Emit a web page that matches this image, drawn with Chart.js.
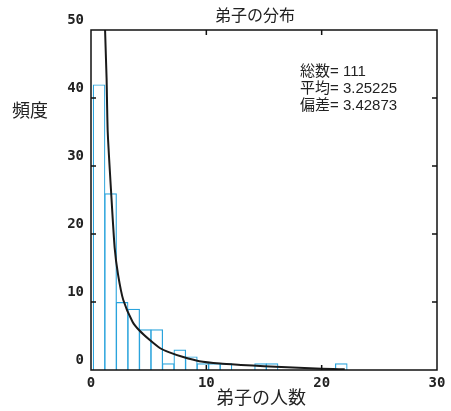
<!DOCTYPE html>
<html>
<head>
<meta charset="utf-8">
<script src="https://cdn.jsdelivr.net/npm/chart.js@4"></script>
<style>
  html, body { margin: 0; padding: 0; background: #fff; }
  #wrap { width: 451px; height: 411px; position: relative; }
</style>
</head>
<body>
<div id="wrap"><canvas id="chart"></canvas></div>
<script>
// 弟子の人数 (1..22) and how many masters had that many
const disciples = [1, 2, 3, 4, 5, 6, 7, 8, 9, 10, 11, 12, 13, 14, 15, 16, 17, 18, 19, 20, 21, 22];
const freq = [42, 26, 10, 9, 6, 6, 1, 3, 2, 1, 1, 1, 0, 0, 1, 1, 0, 0, 0, 0, 0, 1];

// fitted curve
const curveX = [1.15, 1.22, 1.35, 1.45, 1.75, 2.05, 2.35, 2.8, 3.6, 4.2, 5.1, 6.0, 6.8, 8.0, 9.4, 11.2, 13.0, 15.0, 17.0, 19.0, 21.0, 22.0];
const curveY = [58, 50, 43, 35, 26, 18, 14, 10.3, 7.1, 5.8, 4.4, 3.2, 2.6, 1.9, 1.3, 0.95, 0.75, 0.55, 0.4, 0.25, 0.15, 0.1];

const xTicks = [0, 10, 20, 30];
const yTicks = [0, 10, 20, 30, 40, 50];

const statLabels = ['総数= 111', '平均= 3.25225', '偏差= 3.42873'];

const BIN_SHIFT = -0.3; // bars sit a little left of the integer value

const barData = disciples.map((v, i) => ({ x: v + BIN_SHIFT, y: freq[i] > 0 ? freq[i] : null }));
const lineData = curveX.map((x, i) => ({ x: x, y: curveY[i] }));

const cjk = '"Noto Sans CJK JP", "Noto Sans", sans-serif';
const mono = '"DejaVu Sans Mono", monospace';

const frameTicks = {
  id: 'frameTicks',
  afterDraw(chart) {
    const ctx = chart.ctx;
    const a = chart.chartArea;
    const xs = chart.scales.x, ys = chart.scales.y;
    ctx.save();
    ctx.strokeStyle = '#111';
    ctx.lineWidth = 1.5;
    ctx.strokeRect(a.left, a.top, a.right - a.left, a.bottom - a.top);
    const len = 5;
    ctx.beginPath();
    xTicks.slice(1, -1).forEach(t => {
      const px = xs.getPixelForValue(t);
      ctx.moveTo(px, a.bottom); ctx.lineTo(px, a.bottom - len);
      ctx.moveTo(px, a.top); ctx.lineTo(px, a.top + len);
    });
    yTicks.slice(1, -1).forEach(t => {
      const py = ys.getPixelForValue(t);
      ctx.moveTo(a.left, py); ctx.lineTo(a.left + len, py);
      ctx.moveTo(a.right, py); ctx.lineTo(a.right - len, py);
    });
    ctx.stroke();

    ctx.fillStyle = '#222';
    ctx.textBaseline = 'middle';
    ctx.textAlign = 'center';
    ctx.font = '16px ' + cjk;
    ctx.fillText('弟子の分布', 255, 15);
    ctx.font = '18px ' + cjk;
    ctx.fillText('弟子の人数', 261, 397);
    ctx.textAlign = 'left';
    ctx.fillText('頻度', 12, 110);

    ctx.font = '15px "Liberation Sans", ' + cjk;
    statLabels.forEach((s, i) => ctx.fillText(s, 300, 72 + i * 17));
    ctx.restore();
  }
};

new Chart(document.getElementById('chart'), {
  type: 'bar',
  data: {
    datasets: [
      {
        type: 'line',
        data: lineData,
        borderColor: '#1a1a1a',
        borderWidth: 2,
        pointRadius: 0,
        tension: 0.2,
        fill: false,
        order: 0
      },
      {
        type: 'bar',
        data: barData,
        backgroundColor: 'rgba(0,0,0,0)',
        borderColor: '#2aa3dc',
        borderWidth: 1.2,
        barPercentage: 1.09,
        categoryPercentage: 1,
        inflateAmount: 0,
        order: 1
      }
    ]
  },
  options: {
    responsive: true,
    maintainAspectRatio: false,
    animation: false,
    layout: { padding: { left: 0, top: 30, right: 14, bottom: 0 } },
    plugins: { legend: { display: false }, tooltip: { enabled: false } },
    scales: {
      x: {
        type: 'linear',
        offset: false,
        min: 0,
        max: 30,
        afterFit: s => { s.height = 41; },
        afterBuildTicks: s => { s.ticks = xTicks.map(v => ({ value: v })); },
        grid: { display: false, drawTicks: false, offset: false },
        border: { display: false },
        ticks: { padding: 5, color: '#222', font: { family: mono, size: 14, weight: 'bold' } }
      },
      y: {
        min: 0,
        max: 50,
        afterFit: s => { s.width = 91; },
        afterBuildTicks: s => { s.ticks = yTicks.map(v => ({ value: v })); },
        grid: { display: false, drawTicks: false },
        border: { display: false },
        ticks: { padding: 7, labelOffset: -10, color: '#222', font: { family: mono, size: 14, weight: 'bold' } }
      }
    }
  },
  plugins: [frameTicks]
});
</script>
</body>
</html>
